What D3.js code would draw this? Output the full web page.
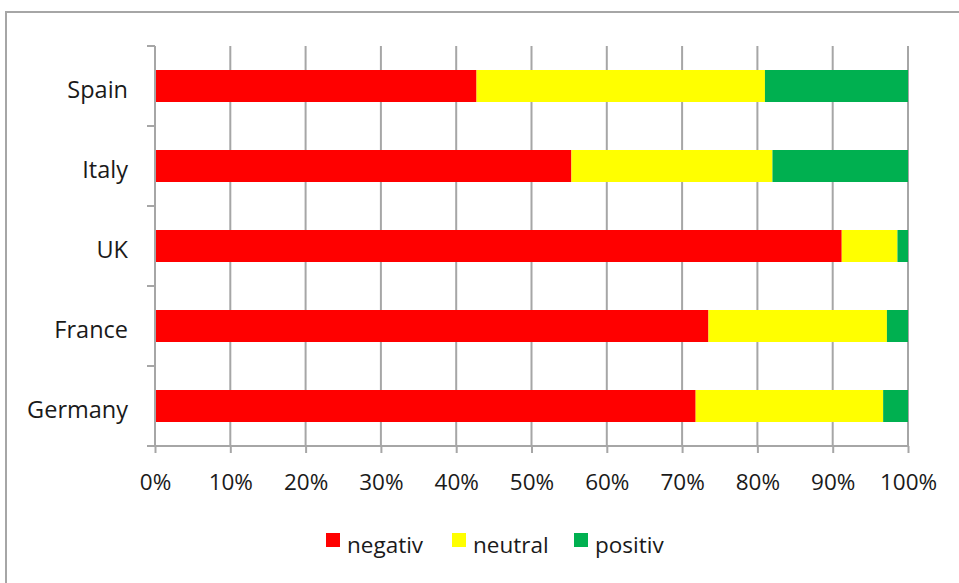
<!DOCTYPE html>
<html>
<head>
<meta charset="utf-8">
<script src="https://cdn.jsdelivr.net/npm/d3@7"></script>
<style>
  html, body { margin: 0; padding: 0; background: #fff; }
  svg { display: block; }
  text { font-family: "Open Sans", Lato, sans-serif; fill: #1a1a1a; }
</style>
</head>
<body>
<svg id="chart" width="959" height="583"></svg>
<script>
// Share of responses per country (percent), top-to-bottom order
const countries = ["Spain", "Italy", "UK", "France", "Germany"];
const negativ = [42.7, 55.3, 91.2, 73.5, 71.8];
const neutral = [38.3, 26.7, 7.4, 23.7, 24.9];
const positiv = [19.0, 18.0, 1.4, 2.8, 3.3];
const seriesNames = ["negativ", "neutral", "positiv"];
const seriesColors = ["#ff0000", "#ffff00", "#00b050"];
const tickValues = [0, 10, 20, 30, 40, 50, 60, 70, 80, 90, 100];

const svg = d3.select("#chart");
const W = 959, H = 583;
const margin = { left: 155, right: 51, top: 46, bottom: 137 };
const gridColor = "#a6a6a6";
const fontFamily = "'Open Sans', Lato, sans-serif";

// Outer chart frame
svg.append("rect")
  .attr("x", 6).attr("y", 12)
  .attr("width", W + 10).attr("height", H + 10)
  .attr("fill", "none").attr("stroke", gridColor).attr("stroke-width", 2);

const x = d3.scaleLinear().domain([0, 100]).range([margin.left, W - margin.right]);
const y = d3.scaleBand().domain(countries).range([margin.top, H - margin.bottom]).paddingInner(0.6).paddingOuter(0.3);
const yEdge = d3.scaleBand().domain(countries).range([margin.top, H - margin.bottom]);

// Vertical gridlines
svg.append("g").selectAll("line").data(tickValues.slice(1)).join("line")
  .attr("x1", d => x(d)).attr("x2", d => x(d))
  .attr("y1", margin.top).attr("y2", H - margin.bottom)
  .attr("stroke", gridColor).attr("stroke-width", 2);

// Stacked bars
const rows = countries.map((c, i) => ({ country: c, negativ: negativ[i], neutral: neutral[i], positiv: positiv[i] }));
const stacked = d3.stack().keys(seriesNames)(rows);
svg.append("g").selectAll("g").data(stacked).join("g")
  .attr("fill", (d, i) => seriesColors[i])
  .selectAll("rect").data(d => d).join("rect")
  .attr("x", d => x(d[0]))
  .attr("width", d => x(d[1]) - x(d[0]))
  .attr("y", d => y(d.data.country))
  .attr("height", y.bandwidth());

// Category axis (left) with boundary ticks
const yAxisG = svg.append("g");
yAxisG.append("line")
  .attr("x1", x(0)).attr("x2", x(0))
  .attr("y1", margin.top).attr("y2", H - margin.bottom)
  .attr("stroke", gridColor).attr("stroke-width", 2);
const boundaries = countries.map(c => yEdge(c)).concat([H - margin.bottom]);
yAxisG.selectAll("line.tick").data(boundaries).join("line").attr("class", "tick")
  .attr("x1", x(0) - 8).attr("x2", x(0))
  .attr("y1", d => d).attr("y2", d => d)
  .attr("stroke", gridColor).attr("stroke-width", 2);
yAxisG.selectAll("text").data(countries).join("text")
  .attr("x", x(0) - 27)
  .attr("y", d => yEdge(d) + yEdge.bandwidth() / 2 + 11.5)
  .attr("text-anchor", "end")
  .attr("font-size", 23.5)
  .text(d => d);

// Value axis (bottom)
const xAxis = d3.axisBottom(x).tickValues(tickValues).tickFormat(d => d + "%").tickSize(7);
const xAxisG = svg.append("g").attr("transform", `translate(0,${H - margin.bottom})`).call(xAxis);
xAxisG.select(".domain").remove();
xAxisG.selectAll(".tick line").attr("stroke", gridColor).attr("stroke-width", 2);
xAxisG.selectAll(".tick text")
  .attr("y", 44).attr("dy", null)
  .attr("font-size", 22.5).attr("fill", "#1a1a1a")
  .style("font-family", fontFamily);
xAxisG.append("line")
  .attr("x1", x(0) - 8).attr("x2", x(100))
  .attr("stroke", gridColor).attr("stroke-width", 2);

// Legend
const legendX = [326, 452, 574];
const legend = svg.append("g").selectAll("g").data(seriesNames).join("g")
  .attr("transform", (d, i) => `translate(${legendX[i]},533)`);
legend.append("rect").attr("width", 14).attr("height", 14).attr("fill", (d, i) => seriesColors[i]);
legend.append("text").attr("x", 21).attr("y", 19.5)
  .attr("font-size", 22.5).text(d => d);
</script>
</body>
</html>
